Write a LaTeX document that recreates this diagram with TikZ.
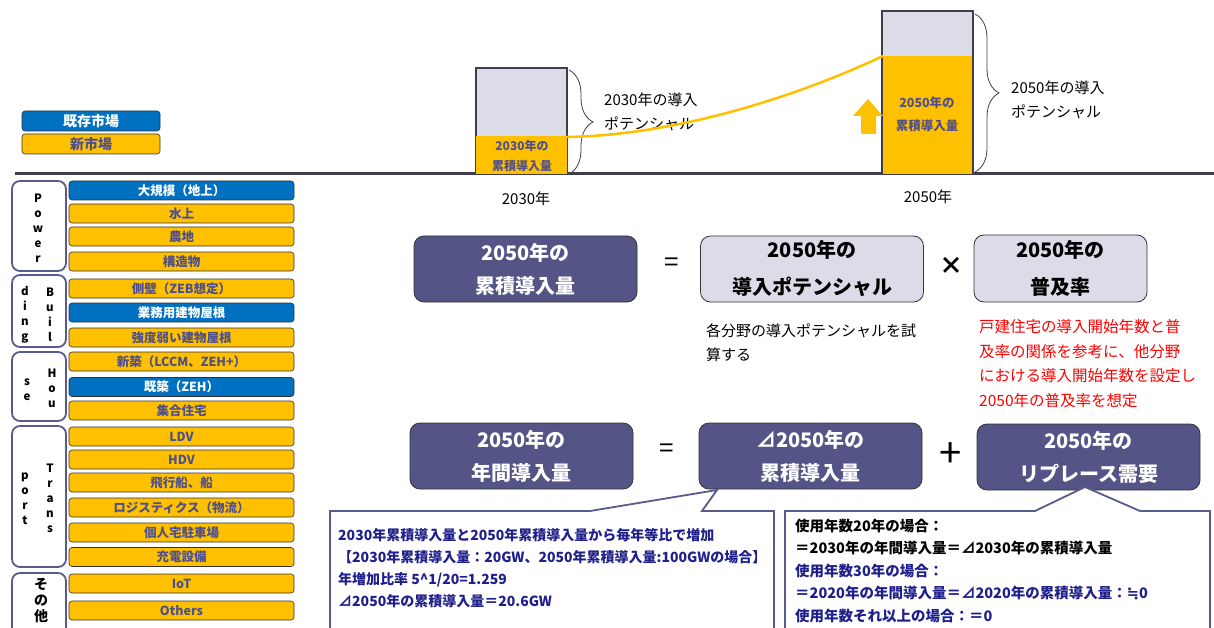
\documentclass[tikz,border=0pt]{standalone}
\usepackage{fontspec}
\setmainfont{Noto Sans CJK JP}
\newfontfamily\dejavu{DejaVu Sans}
\usetikzlibrary{decorations.pathreplacing}
\definecolor{myblue}{HTML}{0070C0}
\definecolor{myorange}{HTML}{FFC000}
\definecolor{bartext}{HTML}{4F4F8C}
\definecolor{grpline}{HTML}{5A5A8C}
\definecolor{boxpurple}{HTML}{545487}
\definecolor{lav}{HTML}{DCDCE8}
\definecolor{darkline}{HTML}{3E3E50}
\definecolor{navy}{HTML}{20208C}
\definecolor{redtext}{HTML}{FF0000}
\newcommand{\myfs}[2]{\fontsize{#1}{#2}\selectfont}
\begin{document}
\begin{tikzpicture}[x=1pt,y=-1pt,
  bar/.style={draw=black!80, line width=0.6pt, rounded corners=3pt, minimum width=225pt, minimum height=19pt, inner sep=0pt, font=\bfseries\myfs{12.5}{14}},
  nbar/.style={bar, fill=myorange, text=bartext},
  obar/.style={bar, fill=myblue, text=white},
  grp/.style={draw=grpline, line width=1.8pt, rounded corners=8pt},
  vlet/.style={font=\bfseries\myfs{11.5}{15}, align=center, inner sep=0pt},
  eqdark/.style={draw=black!80, line width=0.8pt, rounded corners=10pt, fill=boxpurple, text=white, font=\bfseries\myfs{20}{33}, align=center, minimum width=223pt, minimum height=66pt, inner sep=0pt},
  eqlight/.style={eqdark, fill=lav, text=black, font=\bfseries\myfs{20}{37}},
  op/.style={font=\myfs{26}{26}, inner sep=0pt},
  lbl/.style={font=\myfs{15}{24}, align=left, inner sep=0pt, anchor=west},
  callout/.style={draw=grpline, line width=1.8pt, fill=white},
  topbox/.style={draw=darkline, line width=2.5pt, fill=lav, inner sep=0pt},
  ortext/.style={font=\bfseries\myfs{12}{20}, text=bartext, align=center, inner sep=0pt},
  brc/.style={draw=darkline, line width=0.8pt, decorate, decoration={brace, amplitude=24pt}}
]
\fill[white] (0,0) rectangle (1214,628);
\useasboundingbox (0,0) rectangle (1214,628);

% legend
\node[obar, minimum width=138pt, minimum height=20pt, font=\bfseries\myfs{14}{16}] (lg1) at (91,121) {既存市場};
\node[nbar, minimum width=138pt, minimum height=20pt, font=\bfseries\myfs{14}{16}] (lg2) at (91,144) {新市場};

% baseline
\draw[darkline, line width=3pt] (15,174) coordinate (bl0) -- (1214,174) coordinate (bl1);

% group boxes
\draw[grp] (12,181) rectangle (66,271);
\draw[grp] (12,275) rectangle (66,347);
\draw[grp] (12,352) rectangle (66,421);
\draw[grp] (12,426) rectangle (66,567);
\draw[grp] (12,573) rectangle (66,640);

\node[vlet] (gp) at (38,228) {P\\o\\w\\e\\r};
\node[vlet] (gb1) at (50,314.5) {B\\u\\i\\l};
\node[vlet] (gb2) at (25,314.5) {d\\i\\n\\g};
\node[vlet] (gh1) at (52,388) {H\\o\\u};
\node[vlet] (gh2) at (27,389.5) {s\\e};
\node[vlet] (gt1) at (50,498) {T\\r\\a\\n\\s};
\node[vlet] (gt2) at (25,498.5) {p\\o\\r\\t};
\node[vlet, font=\bfseries\myfs{14}{16}] (go) at (41,601) {そ\\の\\他};

% bars
\node[obar] (i1) at (181.5,190.5) {大規模（地上）};
\node[nbar] (i2) at (181.5,213.5) {水上};
\node[nbar] (i3) at (181.5,236.5) {農地};
\node[nbar] (i4) at (181.5,261.5) {構造物};
\node[nbar] (i5) at (181.5,288.5) {側壁（ZEB想定）};
\node[obar] (i6) at (181.5,312.5) {業務用建物屋根};
\node[nbar] (i7) at (181.5,337.5) {強度弱い建物屋根};
\node[nbar] (i8) at (181.5,361.5) {新築（LCCM、ZEH+）};
\node[obar] (i9) at (181.5,387) {既築（ZEH）};
\node[nbar] (i10) at (181.5,410.5) {集合住宅};
\node[nbar] (i11) at (181.5,436.5) {LDV};
\node[nbar] (i12) at (181.5,459.5) {HDV};
\node[nbar] (i13) at (181.5,482.5) {飛行船、船};
\node[nbar] (i14) at (181.5,507.5) {ロジスティクス（物流）};
\node[nbar] (i15) at (181.5,532.5) {個人宅駐車場};
\node[nbar] (i16) at (181.5,557) {充電設備};
\node[nbar] (i17) at (181.5,583.5) {IoT};
\node[nbar] (i18) at (181.5,610.5) {Others};

% top chart 2030
\node[topbox, minimum width=91pt, minimum height=106pt] (b30) at (521.5,121) {};
\fill[myorange] (476,136) rectangle (567,174);
\node[ortext] (o30) at (522,155.5) {2030年の\\累積導入量};
\draw[brc] (569,70) -- (569,174);
\node[lbl] (p30) at (604,112) {2030年の導入\\ポテンシャル};
\node[font=\myfs{15}{18}, inner sep=0pt] (y30) at (526,199) {2030年};

% top chart 2050
\node[topbox, minimum width=91pt, minimum height=163pt] (b50) at (927.5,92.5) {};
\fill[myorange] (882.5,56) rectangle (972,174);
\node[ortext, font=\bfseries\myfs{12.5}{23}] (o50) at (927,114.5) {2050年の\\累積導入量};
\draw[brc] (975,14) -- (975,172);
\node[lbl] (p50) at (1011,100) {2050年の導入\\ポテンシャル};
\node[font=\myfs{15}{18}, inner sep=0pt] (y50) at (928,197) {2050年};

% growth curve and arrow
\coordinate (c30) at (567,137);
\coordinate (c50) at (883,56);
\draw[myorange, line width=2.5pt] (c30) .. controls (680,135) and (800,95) .. (c50);
\fill[myorange] (868,99) -- (883,116) -- (876,116) -- (876,134) -- (861,134) -- (861,116) -- (853,116) -- cycle;

% equation row 1
\node[eqdark] (eA) at (525.5,269) {2050年の\\累積導入量};
\node[op] (eq1) at (672,265) {=};
\node[eqlight] (eB) at (812,269) {2050年の\\導入ポテンシャル};
\node[op, font=\bfseries\myfs{24}{24}] (mul) at (951,266) {×};
\node[eqlight, minimum width=173pt, minimum height=67pt] (eC) at (1060.5,268.5) {2050年の\\普及率};
\node[lbl] (dB) at (706,342.5) {各分野の導入ポテンシャルを試\\算する};
\node[lbl, font=\myfs{15.5}{24.5}, text=redtext] (dC) at (979,363.5) {戸建住宅の導入開始年数と普\\及率の関係を参考に、他分野\\における導入開始年数を設定し\\2050年の普及率を想定};

% equation row 2
\node[eqdark] (eD) at (521.5,456) {2050年の\\年間導入量};
\node[op] (eq2) at (667,451) {=};
\node[eqdark] (eE) at (810.5,456) {⊿2050年の\\累積導入量};
\node[op, font=\myfs{40}{40}] (plus) at (951,455) {+};
\node[eqdark] (eF) at (1088.5,457) {2050年の\\リプレース需要};

% callouts
\coordinate (ap1) at (717,490);
\coordinate (ap2) at (1085,487);
\draw[callout] (330,511) -- (590,511) -- (ap1) -- (702,511) -- (774,511) -- (774,640) -- (330,640) -- cycle;
\draw[callout] (785,511) -- (1035,511) -- (ap2) -- (1140,511) -- (1210,511) -- (1210,640) -- (785,640) -- cycle;

\node[anchor=west, align=left, font=\bfseries\myfs{14}{22}, text=navy, inner sep=0pt] (t1) at (338,568) {2030年累積導入量と2050年累積導入量から毎年等比で増加\\【2030年累積導入量：20GW、2050年累積導入量:100GWの場合】\\年増加比率 5\textasciicircum1/20=1.259\\⊿2050年の累積導入量＝20.6GW};
\node[anchor=west, align=left, font=\bfseries\myfs{14.5}{22.5}, text=black, inner sep=0pt] (t2) at (795,570.5) {使用年数20年の場合：\\＝2030年の年間導入量＝⊿2030年の累積導入量\\\textcolor{navy}{使用年数30年の場合：}\\\textcolor{navy}{＝2020年の年間導入量＝⊿2020年の累積導入量：{\dejavu ≒}0}\\\textcolor{navy}{使用年数それ以上の場合：＝0}};
\end{tikzpicture}
\end{document}
